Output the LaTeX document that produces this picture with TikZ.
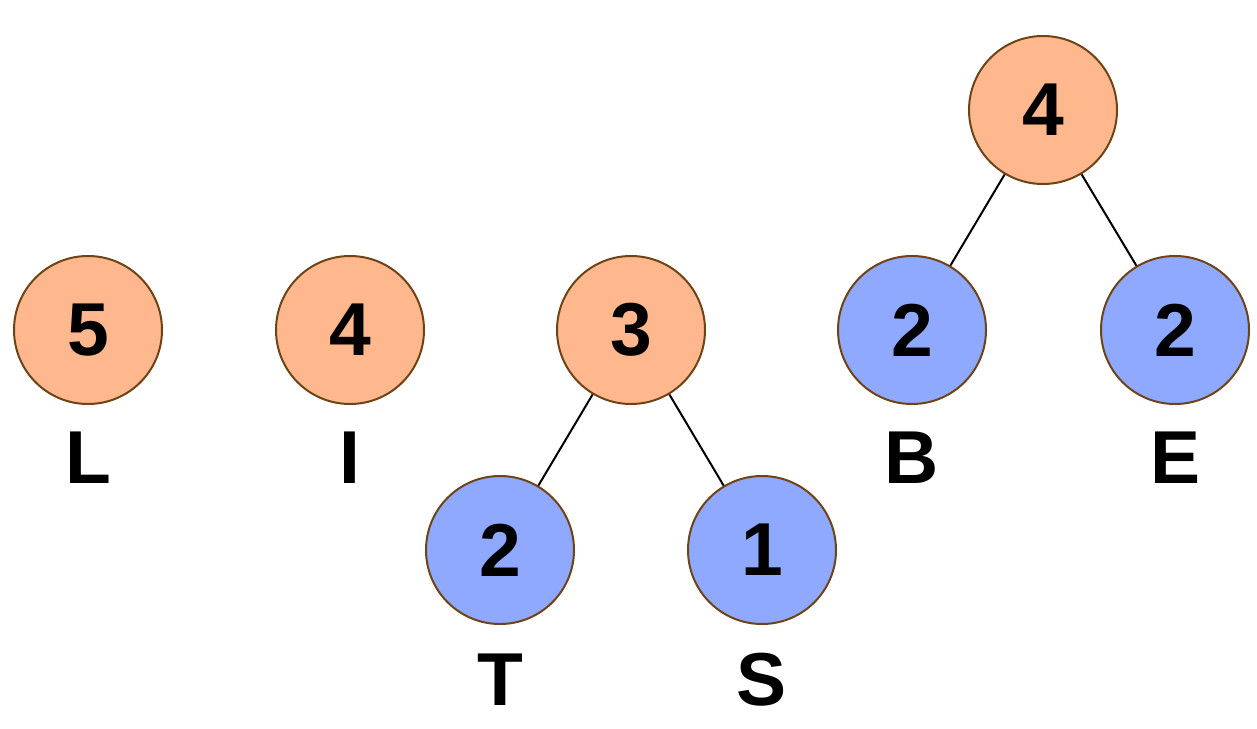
\documentclass[tikz,border=0pt]{standalone}
\usepackage{fontspec}
\setmainfont{Liberation Sans}
\definecolor{peach}{HTML}{FFB88E}
\definecolor{skyb}{HTML}{8EA9FF}
\definecolor{rim}{HTML}{6E4417}
\tikzset{
  nd/.style={circle, draw=rim, line width=2pt, minimum size=148pt, inner sep=0pt,
    font=\fontsize{75}{80}\selectfont\bfseries},
  hot/.style={nd, fill=peach},
  cold/.style={nd, fill=skyb},
  lab/.style={inner sep=0pt, font=\fontsize{75}{80}\selectfont\bfseries},
  edge/.style={draw=black, line width=2pt}
}
\begin{document}
\begin{tikzpicture}[x=1pt,y=-1pt]
\useasboundingbox[fill=white] (0,0) rectangle (1257,728);
\node[hot] (n5) at (88,330) {5};
\node[lab] (lL) at (88,458) {L};
\node[hot] (n4a) at (350,330) {4};
\node[lab] (lI) at (350,458) {I};
\node[hot] (n3) at (631,330) {3};
\node[cold] (nT) at (500,550) {2};
\node[lab] (lT) at (500,680) {T};
\node[cold] (nS) at (762,550) {1};
\node[lab] (lS) at (762,680) {S};
\node[hot] (n4b) at (1043,110) {4};
\node[cold] (nB) at (912,330) {2};
\node[lab] (lB) at (912,458) {B};
\node[cold] (nE) at (1175,330) {2};
\node[lab] (lE) at (1175,458) {E};
\draw[edge] (n3) -- (nT);
\draw[edge] (n3) -- (nS);
\draw[edge] (n4b) -- (nB);
\draw[edge] (n4b) -- (nE);
\end{tikzpicture}
\end{document}
